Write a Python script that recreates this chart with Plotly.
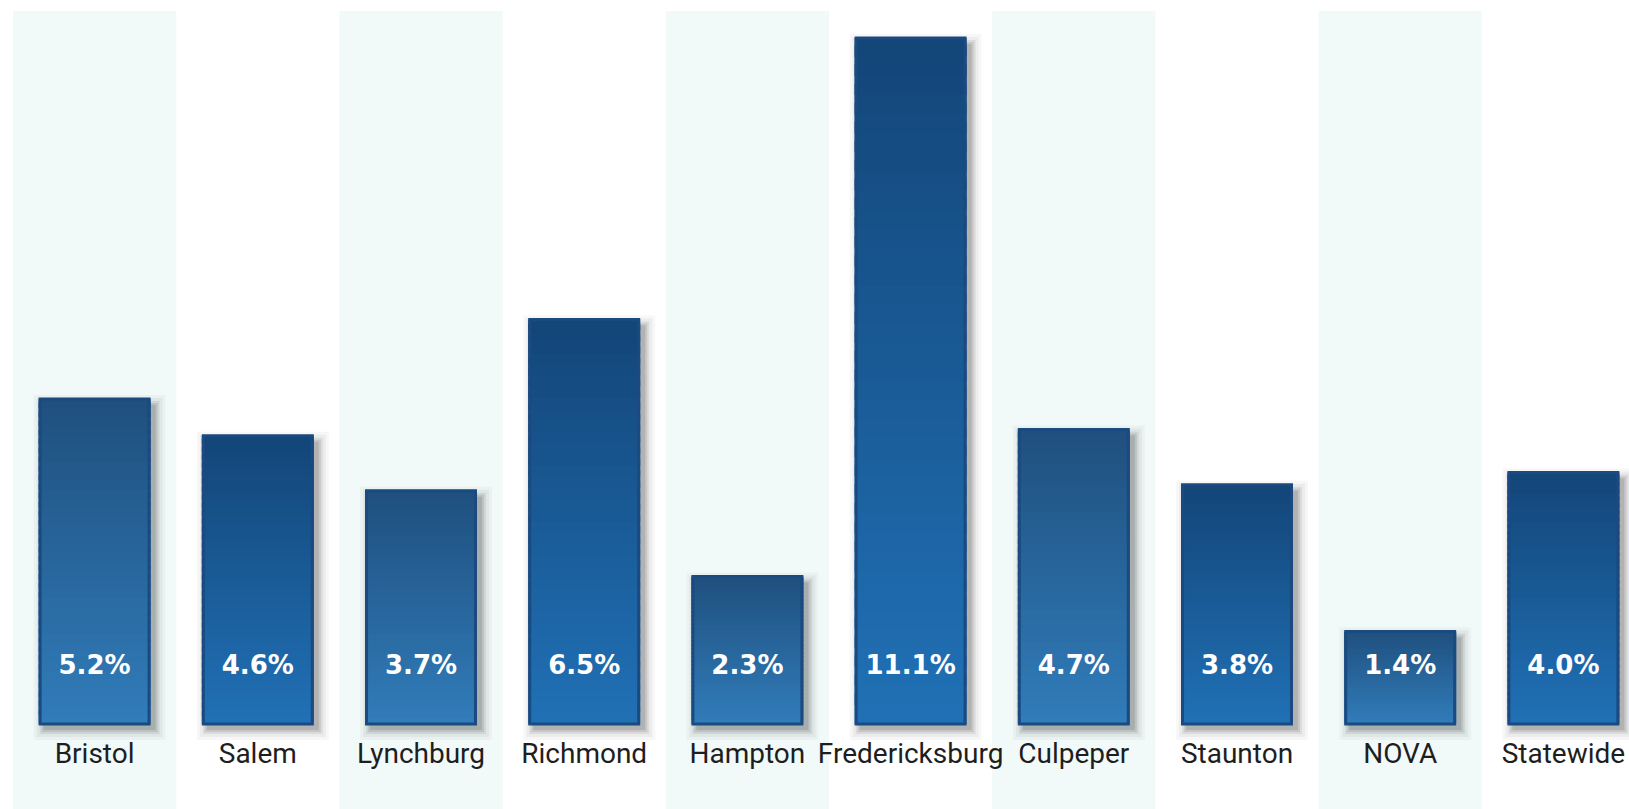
import plotly.graph_objects as go

categories = ["Bristol", "Salem", "Lynchburg", "Richmond", "Hampton",
              "Fredericksburg", "Culpeper", "Staunton", "NOVA", "Statewide"]
values = [5.2, 4.6, 3.7, 6.5, 2.3, 11.1, 4.7, 3.8, 1.4, 4.0]
value_labels = [f"{v:.1f}%" for v in values]

# style constants
B0 = -0.11            # bar floor
BAR_W = 0.686
PX_X = 1 / 163.2      # one pixel in category units
PX_Y = 1 / 61.2       # one pixel in value units
N_SEG = 36
LABEL_Y = 0.82
CAT_Y = -0.634
BAND = "#f1faf9"

top_a, bot_a = (31, 80, 127), (49, 124, 185)    # bars on banded columns
top_b, bot_b = (19, 70, 121), (32, 112, 181)    # bars on white columns


def mix(c1, c2, t):
    return "rgb(%d,%d,%d)" % tuple(round(a + (b - a) * t) for a, b in zip(c1, c2))


fig = go.Figure()

# shadows
for e, op in [(10, 0.03), (7, 0.045), (4, 0.07), (2, 0.09), (0, 0.10)]:
    dx, dy = 5, 6
    fig.add_trace(go.Bar(
        x=categories,
        base=[B0 - (dy + e) * PX_Y for _ in values],
        y=[v - B0 + 2 * e * PX_Y for v in values],
        width=BAR_W + 2 * e * PX_X,
        offset=-BAR_W / 2 - e * PX_X + dx * PX_X,
        marker=dict(color=f"rgba(0,0,0,{op})", line=dict(width=0)),
        hoverinfo="skip", showlegend=False,
    ))

# gradient segments (bottom -> top)
for k in range(N_SEG):
    t = k / (N_SEG - 1)
    cols = []
    for i in range(len(values)):
        if i % 2 == 0:
            cols.append(mix(bot_a, top_a, t))
        else:
            cols.append(mix(bot_b, top_b, t))
    fig.add_trace(go.Bar(
        x=categories,
        base=[B0 + (v - B0) * k / N_SEG for v in values],
        y=[(v - B0) / N_SEG * (1.6 if k < N_SEG - 1 else 1.0) for v in values],
        width=BAR_W,
        marker=dict(color=cols, line=dict(width=0)),
        hoverinfo="skip", showlegend=False,
    ))

# outline
fig.add_trace(go.Bar(
    x=categories,
    base=[B0] * len(values),
    y=[v - B0 for v in values],
    width=BAR_W - 3 * PX_X,
    marker=dict(color="rgba(0,0,0,0)", line=dict(width=3, color="#1b4a80")),
    customdata=values,
    hovertemplate="%{x}: %{customdata:.1f}%<extra></extra>",
    showlegend=False,
))

# value labels
fig.add_trace(go.Scatter(
    x=categories, y=[LABEL_Y] * len(values), mode="text", text=value_labels,
    textfont=dict(family="DejaVu Sans", size=26, color="white", weight="bold"),
    hoverinfo="skip", showlegend=False,
))

# category labels
fig.add_trace(go.Scatter(
    x=categories, y=[CAT_Y] * len(values), mode="text", text=categories,
    textfont=dict(family="Roboto", size=28, color="#1e1e1e"),
    hoverinfo="skip", showlegend=False,
))

shapes = []
for i in range(0, len(categories), 2):
    shapes.append(dict(type="rect", xref="x", yref="paper",
                       x0=i - 0.5, x1=i + 0.5, y0=0, y1=1,
                       fillcolor=BAND, line=dict(width=0), layer="below"))

fig.update_layout(
    width=1629, height=809,
    margin=dict(l=13, r=0, t=11, b=0),
    barmode="overlay",
    paper_bgcolor="white", plot_bgcolor="white",
    shapes=shapes,
    xaxis=dict(range=[-0.5, 9.402], showticklabels=False, showgrid=False,
               zeroline=False, showline=False, ticks=""),
    yaxis=dict(range=[-1.50, 11.54], showticklabels=False, showgrid=False,
               zeroline=False, showline=False, ticks=""),
    showlegend=False,
)

fig.write_html("out.html")
